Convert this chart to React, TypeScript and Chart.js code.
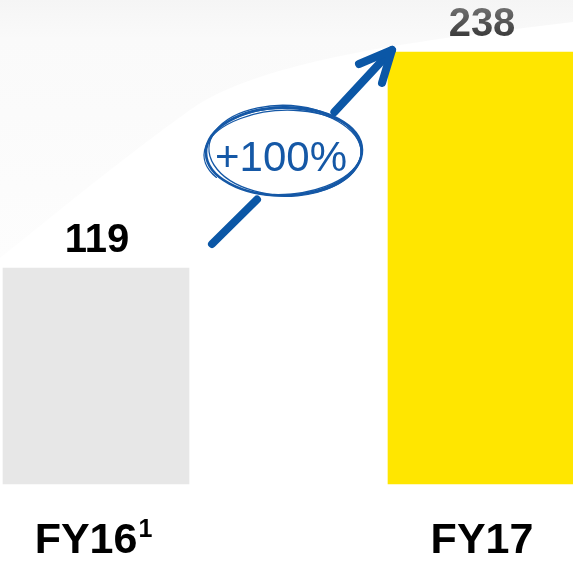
import React, { useEffect, useRef } from 'react';
import { Chart, registerables } from 'chart.js';

Chart.register(...registerables);

const categories = ['FY16', 'FY17'];
const footnotes = ['1', ''];
const values = [119, 238];
const barColors = ['#E7E7E7', '#FFE600'];
const valueLabelTop = ['#000000', '#707070'];
const valueLabelBottom = ['#000000', '#3c3c3c'];
const growthLabel = '+100%';

const FONT = '"Liberation Sans", Arial, sans-serif';
const BLUE = '#0B57A6';

export default function App() {
  const ref = useRef<HTMLCanvasElement>(null);

  useEffect(() => {
    const canvas = ref.current!;

    const overlay = {
      id: 'overlay',
      beforeDraw(chart: any) {
        const ctx = chart.ctx as CanvasRenderingContext2D;
        const w = chart.width;
        const h = chart.height;
        ctx.save();
        ctx.fillStyle = '#ffffff';
        ctx.fillRect(0, 0, w, h);
        // subtle grey fade at the top
        const g = ctx.createLinearGradient(0, 0, 0, 260);
        g.addColorStop(0, '#f5f5f5');
        g.addColorStop(0.15, '#fafafa');
        g.addColorStop(1, '#fdfdfd');
        ctx.fillStyle = g;
        ctx.beginPath();
        ctx.moveTo(0, 0);
        ctx.lineTo(w, 0);
        ctx.lineTo(w, 22);
        ctx.bezierCurveTo(420, 40, 260, 60, 190, 110);
        ctx.bezierCurveTo(120, 160, 60, 210, 0, 258);
        ctx.closePath();
        ctx.fill();
        ctx.restore();
      },
      afterDatasetsDraw(chart: any) {
        const ctx = chart.ctx as CanvasRenderingContext2D;
        const meta = chart.getDatasetMeta(0);
        const bars = meta.data as any[];
        const base = chart.scales.y.getPixelForValue(0);

        ctx.save();
        // value labels
        ctx.textAlign = 'center';
        ctx.textBaseline = 'alphabetic';
        ctx.font = `bold 40px ${FONT}`;
        bars.forEach((b, i) => {
          const gy = ctx.createLinearGradient(0, b.y - 45, 0, b.y - 16);
          gy.addColorStop(0, valueLabelTop[i]);
          gy.addColorStop(1, valueLabelBottom[i]);
          ctx.fillStyle = gy;
          ctx.fillText(String(values[i]), b.x + 1, b.y - 16);
        });

        // category labels
        bars.forEach((b, i) => {
          ctx.font = `bold 43px ${FONT}`;
          const mainW = ctx.measureText(categories[i]).width;
          let supW = 0;
          if (footnotes[i]) {
            ctx.font = `bold 25px ${FONT}`;
            supW = ctx.measureText(footnotes[i]).width;
          }
          const total = mainW + supW;
          const left = b.x - total / 2 - 3 + (footnotes[i] ? 0 : 4);
          ctx.textAlign = 'left';
          ctx.fillStyle = '#000000';
          ctx.font = `bold 43px ${FONT}`;
          ctx.fillText(categories[i], left, base + 69);
          if (footnotes[i]) {
            ctx.font = `bold 25px ${FONT}`;
            ctx.fillText(footnotes[i], left + mainW + 1, base + 53);
          }
        });

        // growth arrow
        const b0 = bars[0];
        const b1 = bars[1];
        const sx = b0.x + b0.width / 2 + 23;
        const sy = b0.y - 24;
        const tx = b1.x - b1.width / 2 + 4;
        const ty = b1.y - 2;
        const lerp = (t: number) => [sx + (tx - sx) * t, sy + (ty - sy) * t];

        ctx.strokeStyle = BLUE;
        ctx.lineWidth = 8;
        ctx.lineCap = 'round';
        ctx.lineJoin = 'round';
        let [ax, ay] = lerp(0);
        let [bx, by] = lerp(0.25);
        ctx.beginPath();
        ctx.moveTo(ax, ay);
        ctx.lineTo(bx, by + 4);
        ctx.stroke();
        [ax, ay] = lerp(0.68);
        ctx.beginPath();
        ctx.moveTo(ax, ay);
        ctx.lineTo(tx, ty);
        ctx.stroke();
        // head
        ctx.beginPath();
        ctx.moveTo(tx - 33, ty + 14);
        ctx.lineTo(tx, ty);
        ctx.lineTo(tx - 10, ty + 33);
        ctx.stroke();

        // sketchy ellipse
        const [mx, my] = lerp(0.4);
        const cx = mx;
        const cy = my - 15;
        ctx.strokeStyle = '#1558A6';
        const strokes = [
          [0, 0, 78, 44, -0.02, 0, Math.PI * 2, 2.6],
          [1, -1, 76, 45, 0.03, 0.4, Math.PI * 2 + 0.3, 1.4],
          [-1, 1, 79, 42, -0.05, 2.6, 2.6 + 5.4, 1.3],
          [0, 1, 77, 44, 0.01, 4.0, 4.0 + 4.2, 1.2],
        ];
        strokes.forEach(([dx, dy, rx, ry, rot, a0, a1, lw]) => {
          ctx.lineWidth = lw;
          ctx.beginPath();
          ctx.ellipse(cx + dx, cy + dy, rx, ry, rot, a0, a1);
          ctx.stroke();
        });

        ctx.fillStyle = '#1558A6';
        ctx.font = `42px ${FONT}`;
        ctx.textAlign = 'center';
        ctx.fillText(growthLabel, cx - 3, cy + 20);
        ctx.restore();
      },
    };

    const chart = new Chart(canvas, {
      type: 'bar',
      data: {
        labels: categories,
        datasets: [
          {
            data: values,
            backgroundColor: barColors,
            borderWidth: 0,
            barThickness: 186,
            clip: false as any,
          },
        ],
      },
      options: {
        animation: false,
        responsive: false,
        maintainAspectRatio: false,
        layout: { padding: { left: 96, right: 92, top: 52, bottom: 77 } },
        plugins: {
          legend: { display: false },
          tooltip: { enabled: false },
        },
        scales: {
          x: { display: false, offset: false },
          y: { display: false, min: 0, max: 238 },
        },
      },
      plugins: [overlay],
    });

    return () => chart.destroy();
  }, []);

  return (
    <canvas
      ref={ref}
      width={573}
      height={561}
      style={{ position: 'fixed', left: 0, top: 0, width: 573, height: 561 }}
    />
  );
}
